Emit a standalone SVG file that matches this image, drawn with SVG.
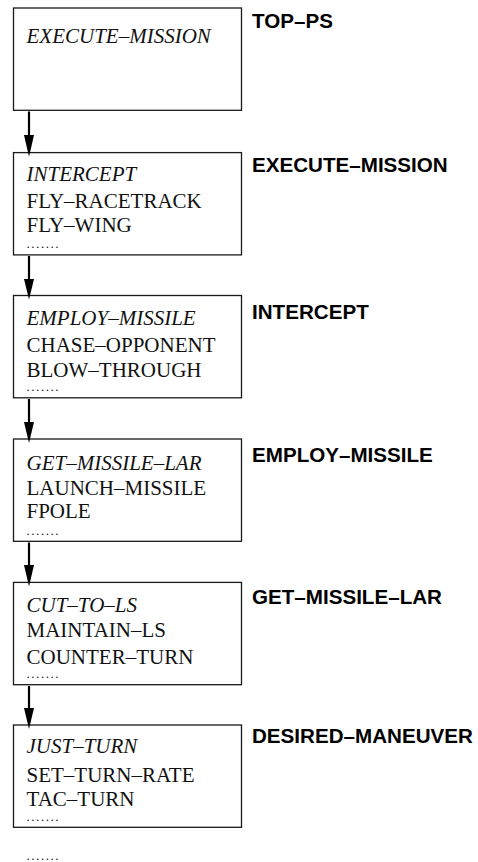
<svg xmlns="http://www.w3.org/2000/svg" width="478" height="862" viewBox="0 0 478 862">
<style>
  .box { fill: #fff; stroke: #1a1a1a; stroke-width: 1.3; }
  .t { font-family: "Liberation Serif", "Times New Roman", serif; font-size: 21px; fill: #111; }
  .i { font-style: italic; }
  .dots { font-family: "Liberation Serif", "Times New Roman", serif; font-size: 13px; letter-spacing: 1.55px; fill: #111; }
  .lbl { font-family: "Liberation Sans", Arial, sans-serif; font-weight: bold; font-size: 20.6px; fill: #000; }
  .conn line { stroke: #000; stroke-width: 2.2; }
  .conn polygon { fill: #000; }
</style>
<rect width="478" height="862" fill="#fff"/>

<g id="node-top-ps">
  <rect class="box" x="13.5" y="8" width="228" height="102.3"/>
  <text class="t i" x="26.5" y="42.7">EXECUTE–MISSION</text>
  <text class="lbl" x="252" y="27.7">TOP–PS</text>
</g>

<g id="node-execute-mission">
  <rect class="box" x="13.5" y="152.6" width="228" height="102.3"/>
  <text class="t i" x="26.5" y="181">INTERCEPT</text>
  <text class="t" x="26.5" y="208.3">FLY–RACETRACK</text>
  <text class="t" x="26.5" y="232.3">FLY–WING</text>
  <text class="dots" x="26.5" y="247.5">.......</text>
  <text class="lbl" x="252" y="171.7">EXECUTE–MISSION</text>
</g>

<g id="node-intercept">
  <rect class="box" x="13.5" y="295.5" width="228" height="102.3"/>
  <text class="t i" x="26.5" y="325">EMPLOY–MISSILE</text>
  <text class="t" x="26.5" y="351.7">CHASE–OPPONENT</text>
  <text class="t" x="26.5" y="377.3">BLOW–THROUGH</text>
  <text class="dots" x="26.5" y="390.5">.......</text>
  <text class="lbl" x="252" y="319">INTERCEPT</text>
</g>

<g id="node-employ-missile">
  <rect class="box" x="13.5" y="439" width="228" height="102.3"/>
  <text class="t i" x="26.5" y="470">GET–MISSILE–LAR</text>
  <text class="t" x="26.5" y="495">LAUNCH–MISSILE</text>
  <text class="t" x="26.5" y="518.3">FPOLE</text>
  <text class="dots" x="26.5" y="534.5">.......</text>
  <text class="lbl" x="252" y="461.7">EMPLOY–MISSILE</text>
</g>

<g id="node-get-missile-lar">
  <rect class="box" x="13.5" y="582.4" width="228" height="102.3"/>
  <text class="t i" x="26.5" y="611.7">CUT–TO–LS</text>
  <text class="t" x="26.5" y="637.3">MAINTAIN–LS</text>
  <text class="t" x="26.5" y="664">COUNTER–TURN</text>
  <text class="dots" x="26.5" y="677.5">.......</text>
  <text class="lbl" x="252" y="604">GET–MISSILE–LAR</text>
</g>

<g id="node-desired-maneuver">
  <rect class="box" x="13.5" y="725" width="228" height="102.3"/>
  <text class="t i" x="26.5" y="753.3">JUST–TURN</text>
  <text class="t" x="26.5" y="781.7">SET–TURN–RATE</text>
  <text class="t" x="26.5" y="806">TAC–TURN</text>
  <text class="dots" x="26.5" y="821">.......</text>
  <text class="lbl" x="252" y="743.3">DESIRED–MANEUVER</text>
</g>

<text id="more" class="dots" x="26.5" y="859.5">.......</text>

<g id="connectors" class="conn">
  <line x1="29" y1="111.5" x2="29" y2="140"/>
  <polygon points="24,135 34,135 29,156.7"/>
  <line x1="29" y1="256" x2="29" y2="284"/>
  <polygon points="24,279 34,279 29,299.5"/>
  <line x1="29" y1="399" x2="29" y2="427"/>
  <polygon points="24,422 34,422 29,443"/>
  <line x1="29" y1="542.5" x2="29" y2="570"/>
  <polygon points="24,565 34,565 29,586.4"/>
  <line x1="29" y1="686" x2="29" y2="713"/>
  <polygon points="24,708 34,708 29,729"/>
</g>
</svg>
